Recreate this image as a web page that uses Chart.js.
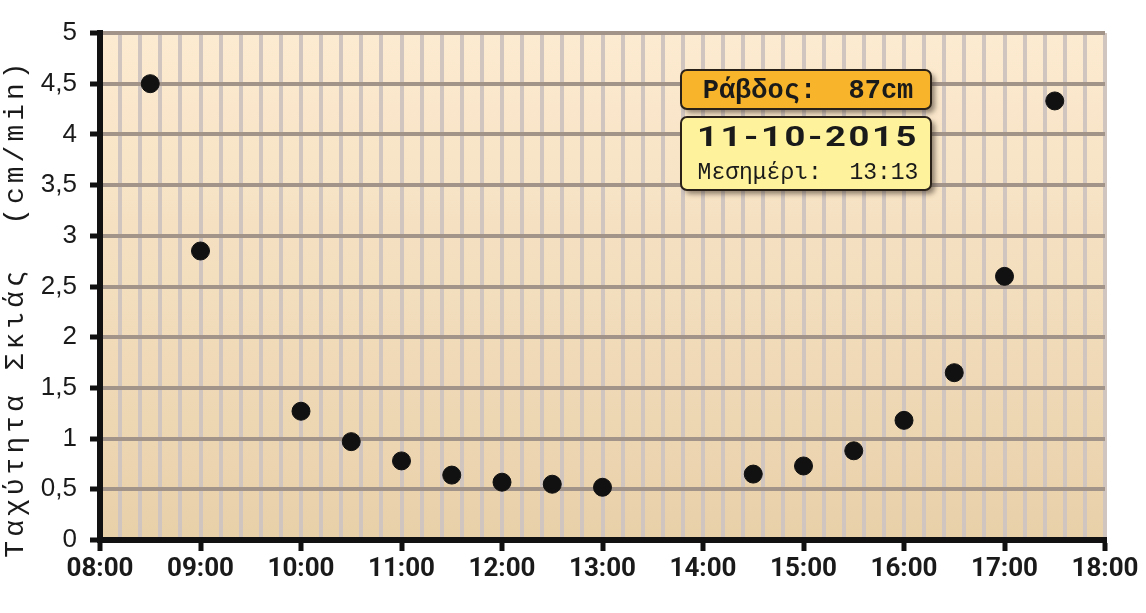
<!DOCTYPE html>
<html>
<head>
<meta charset="utf-8">
<script src="https://cdn.jsdelivr.net/npm/chart.js@4.4.1/dist/chart.umd.min.js"></script>
<style>
  html, body { margin: 0; padding: 0; background: #fff; }
  #wrap { width: 1146px; height: 613px; }
</style>
</head>
<body>
<div id="wrap"><canvas id="chart" width="1146" height="613"></canvas></div>
<script>
// time of day in hours, shadow speed in cm/min
const hours = [8.5, 9, 10, 10.5, 11, 11.5, 12, 12.5, 13, 14.5, 15, 15.5, 16, 16.5, 17, 17.5]
const speeds = [4.5, 2.85, 1.27, 0.97, 0.78, 0.64, 0.57, 0.55, 0.52, 0.65, 0.73, 0.88, 1.18, 1.65, 2.6, 4.33]
const hourRange = [8, 18]
const speedRange = [0, 5]
const yTitle = "Ταχύτητα Σκιάς  (cm/min)"
const rodText = "Ράβδος:  87cm"
const dateText = "11-10-2015"
const noonText = "Μεσημέρι:  13:13"

const isHour = v => Math.abs(v - Math.round(v)) < 1e-6
const fmtHour = v => String(Math.round(v)).padStart(2, "0") + ":00"

function roundRect(ctx, x, y, w, h, r) {
  ctx.beginPath()
  ctx.moveTo(x + r, y)
  ctx.arcTo(x + w, y, x + w, y + h, r)
  ctx.arcTo(x + w, y + h, x, y + h, r)
  ctx.arcTo(x, y + h, x, y, r)
  ctx.arcTo(x, y, x + w, y, r)
  ctx.closePath()
}

function drawBox(ctx, x, y, w, h, fill) {
  ctx.save()
  ctx.shadowColor = "rgba(60,50,40,0.55)"
  ctx.shadowBlur = 5
  ctx.shadowOffsetX = 4
  ctx.shadowOffsetY = 4
  roundRect(ctx, x, y, w, h, 6)
  ctx.fillStyle = fill
  ctx.fill()
  ctx.restore()
  roundRect(ctx, x, y, w, h, 6)
  ctx.lineWidth = 2
  ctx.strokeStyle = "#2a2218"
  ctx.stroke()
}

const decor = {
  id: "decor",
  beforeDraw(chart) {
    const { ctx, chartArea: a } = chart
    const g = ctx.createLinearGradient(0, a.top, 0, a.bottom)
    g.addColorStop(0, "#fdebd1")
    g.addColorStop(1, "#e8d0a9")
    ctx.save()
    ctx.fillStyle = g
    ctx.fillRect(a.left, a.top, a.right - a.left, a.bottom - a.top)
    ctx.restore()
  },
  afterDraw(chart) {
    const { ctx } = chart
    ctx.save()
    // y axis title
    ctx.translate(16, 308)
    ctx.rotate(-Math.PI / 2)
    ctx.fillStyle = "#1a1a1a"
    ctx.font = "28px 'Liberation Mono', monospace"
    ctx.textAlign = "center"
    ctx.textBaseline = "middle"
    ctx.letterSpacing = "4px"
    ctx.fillText(yTitle, 0, 0)
    ctx.restore()

    ctx.save()
    drawBox(ctx, 681, 70, 250, 39, "#f8b52c")
    drawBox(ctx, 681, 117, 250, 73, "#fef39c")
    ctx.fillStyle = "#1a1a1a"
    ctx.textAlign = "center"
    ctx.textBaseline = "middle"
    ctx.font = "bold 27px 'Liberation Mono', monospace"
    ctx.fillText(rodText, 808, 91)
    ctx.font = "23px 'Liberation Mono', monospace"
    ctx.fillText(noonText, 808, 173)
    // wide bold date
    ctx.translate(808, 139)
    ctx.scale(1.3, 1)
    ctx.font = "bold 28px Roboto, 'Liberation Sans', sans-serif"
    ctx.letterSpacing = "2px"
    ctx.fillText(dateText, 0, 0)
    ctx.restore()
  }
}

new Chart(document.getElementById("chart"), {
  type: "scatter",
  data: {
    datasets: [{
      data: hours.map((h, i) => ({ x: h, y: speeds[i] })),
      backgroundColor: "#111",
      borderColor: "#111",
      pointRadius: 9,
      pointHoverRadius: 9
    }]
  },
  options: {
    responsive: false,
    animation: false,
    layout: { padding: { top: 33, right: 41, left: 0, bottom: 0 } },
    plugins: { legend: { display: false }, tooltip: { enabled: false } },
    scales: {
      x: {
        type: "linear",
        min: hourRange[0],
        max: hourRange[1],
        afterFit: s => { s.height = 73 },
        border: { display: true, color: "#111", width: 6 },
        grid: {
          color: "#d0c5bf",
          lineWidth: 4,
          tickLength: 11,
          tickWidth: 5,
          tickColor: c => (c.tick && isHour(c.tick.value) ? "#111" : "rgba(0,0,0,0)")
        },
        ticks: {
          stepSize: 0.2,
          autoSkip: false,
          maxRotation: 0,
          padding: 3,
          color: "#1a1a1a",
          font: { family: "'Liberation Sans Narrow', 'Roboto', sans-serif", size: 26, weight: "bold" },
          callback: v => (isHour(v) ? fmtHour(v) : "")
        }
      },
      y: {
        min: speedRange[0],
        max: speedRange[1],
        afterFit: s => { s.width = 100 },
        border: { display: true, color: "#111", width: 6 },
        grid: {
          color: "#a39489",
          lineWidth: 4,
          tickLength: 10,
          tickWidth: 5,
          tickColor: "#111"
        },
        ticks: {
          stepSize: 0.5,
          padding: 13,
          color: "#1a1a1a",
          font: { family: "'Liberation Sans', Arial, sans-serif", size: 26 },
          callback: v => String(v).replace(".", ",")
        }
      }
    }
  },
  plugins: [decor]
})
</script>
</body>
</html>
